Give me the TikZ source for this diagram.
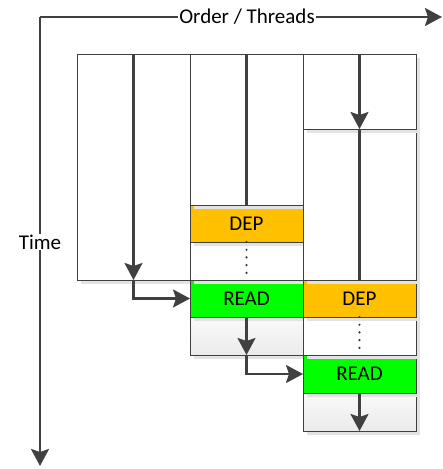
\documentclass[tikz,border=0pt]{standalone}
\usepackage{fontspec}
\setmainfont{Carlito}
\usetikzlibrary{arrows.meta,shadows}
\definecolor{ink}{HTML}{404040}
\definecolor{depfill}{HTML}{FFC000}
\definecolor{readfill}{HTML}{00FF00}
\tikzset{
  cell/.style={draw=ink, line width=0.9pt, fill=white, inner sep=0pt, outer sep=0pt,
    minimum width=113pt, font=\fontsize{21}{24}\selectfont,
    drop shadow={shadow xshift=3.5pt, shadow yshift=-3.5pt, fill=black!11, opacity=1}},
  dep/.style={cell, fill=depfill},
  readc/.style={cell, fill=readfill},
  tail/.style={cell, top color=black!2, bottom color=black!8},
  flow/.style={draw=ink, line width=2.4pt, -{Stealth[length=17pt,width=18pt,inset=3pt]}},
  plain/.style={draw=ink, line width=2.4pt},
  waiting/.style={draw=black!80, line width=2.4pt, line cap=round, dash pattern=on 0pt off 7.7pt},
  axislabel/.style={fill=white, inner sep=1pt, font=\fontsize{21}{24}\selectfont}
}
\begin{document}
\begin{tikzpicture}[x=1pt, y=-1pt]
\useasboundingbox (0,0) rectangle (443,469);

% axes
\coordinate (origin) at (40,17);
\coordinate (orderend) at (442,17);
\coordinate (timeend) at (40,466);
\draw[flow] (origin) -- (orderend);
\draw[flow] (origin) -- (timeend);
\node[axislabel] (orderlbl) at (247,17) {Order / Threads};
\node[axislabel] (timelbl) at (40,242) {Time};

% thread 1
\node[cell, minimum height=226pt] (col1) at (133.5,167) {};

% thread 2 (stacked bottom-up so each shadow falls on the cell below)
\node[tail, minimum height=38pt] (tail2) at (246.5,336) {};
\node[readc, minimum height=37pt] (read2) at (246.5,298.5) {READ};
\node[cell, minimum height=38pt] (gap2) at (246.5,261) {};
\node[dep, minimum height=37pt] (dep2) at (246.5,223.5) {DEP};
\node[cell, minimum height=151pt] (top2) at (246.5,129.5) {};

% thread 3
\node[tail, minimum height=38pt] (tail3) at (359.5,412) {};
\node[readc, minimum height=38pt] (read3) at (359.5,374) {READ};
\node[cell, minimum height=38pt] (gap3) at (359.5,336) {};
\node[dep, minimum height=37pt] (dep3) at (359.5,298.5) {DEP};
\node[cell, minimum height=151pt] (mid3) at (359.5,204.5) {};
\node[cell, minimum height=75pt] (top3) at (359.5,91.5) {};

% control flow
\draw[flow] (col1.north) -- (col1.south);
\draw[flow] (col1.south) |- (read2.west);

\draw[plain] (top2.north) -- (dep2.north);
\draw[waiting] (dep2.south) -- (read2.north);
\draw[flow] (read2.south) -- (tail2.south);
\draw[flow] (tail2.south) |- (read3.west);

\draw[flow] (top3.north) -- (top3.south);
\draw[plain] (top3.south) -- (dep3.north);
\draw[waiting] (dep3.south) -- (read3.north);
\draw[flow] (read3.south) -- (tail3.south);
\end{tikzpicture}
\end{document}
